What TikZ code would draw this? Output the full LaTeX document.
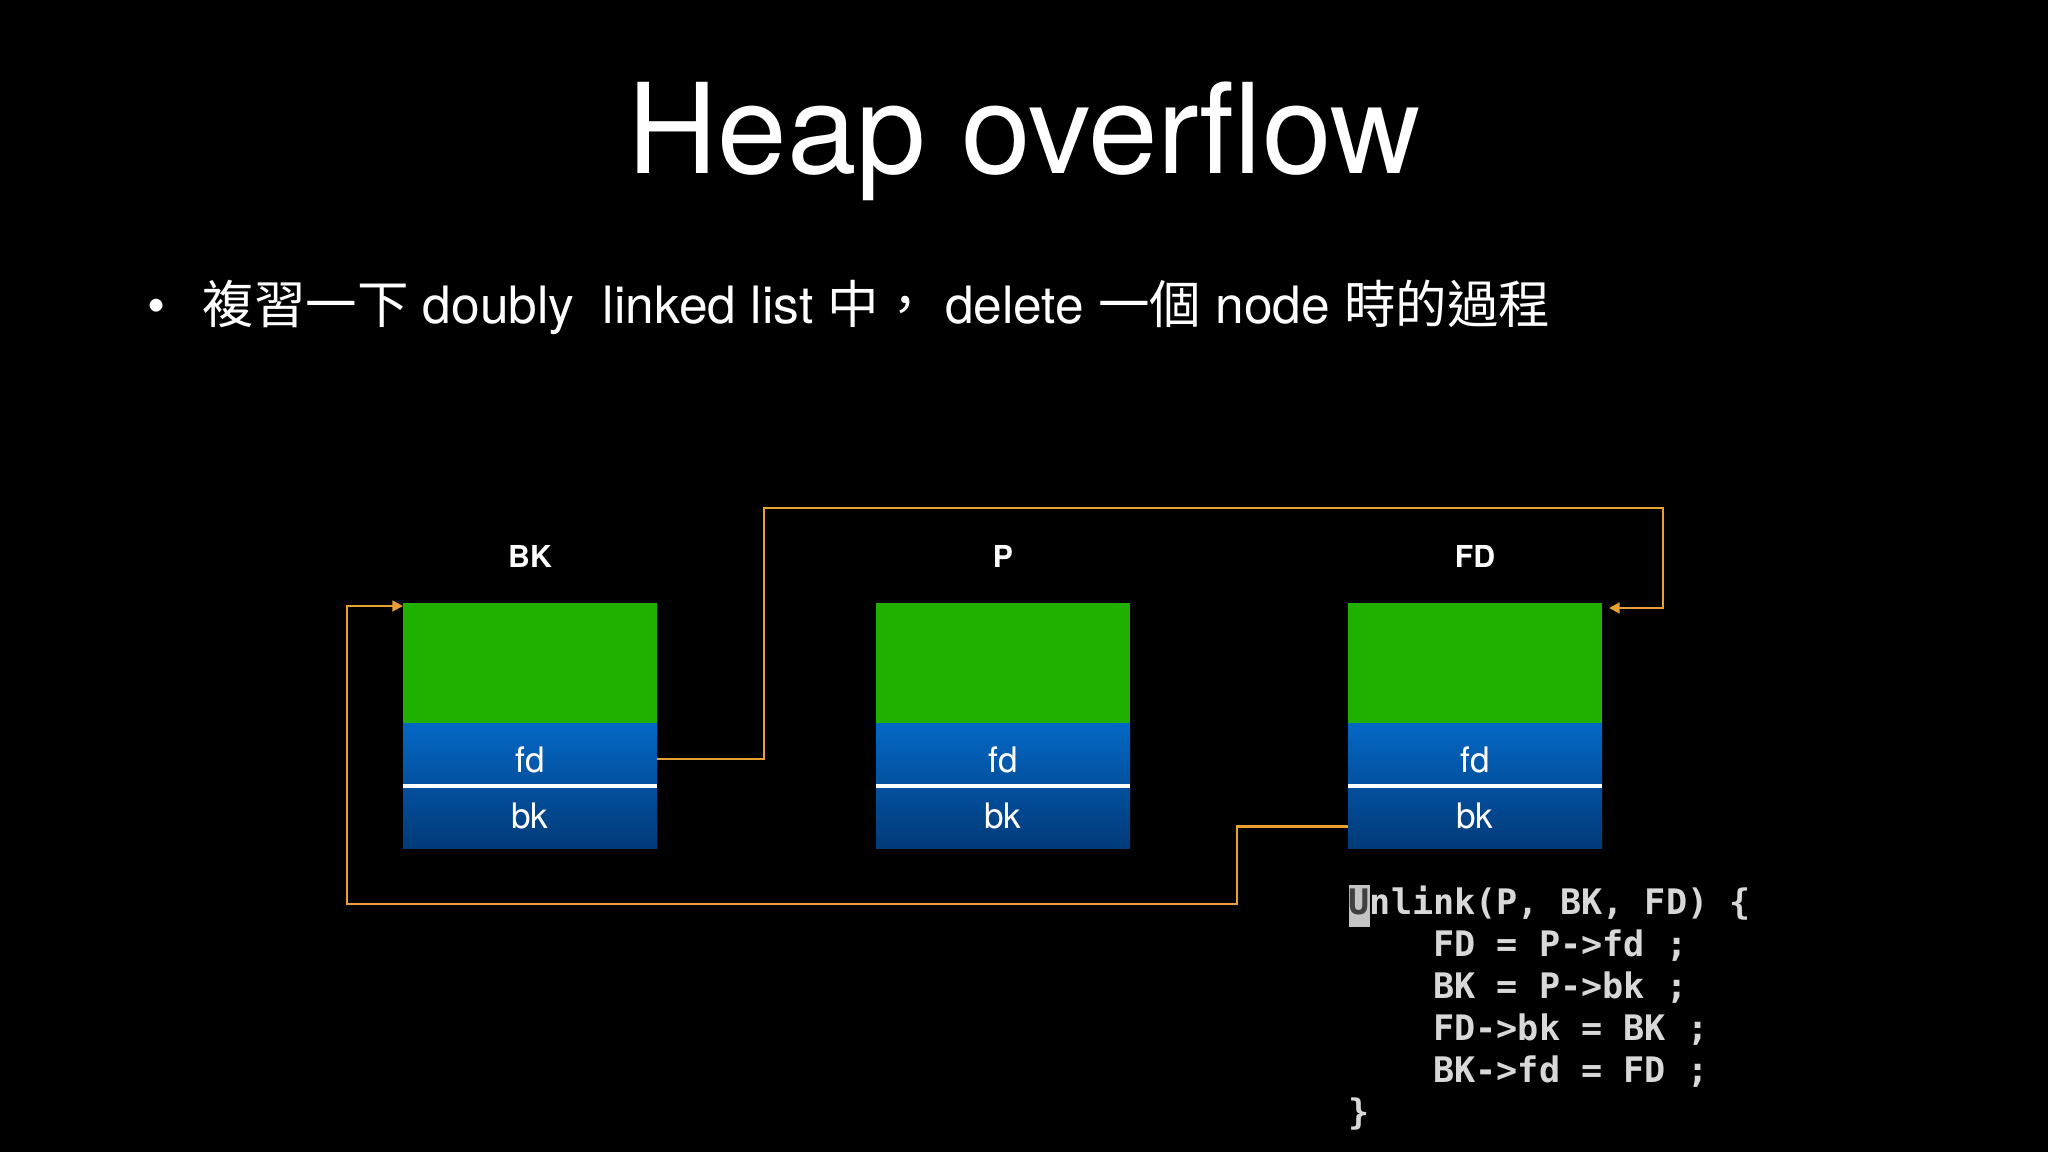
\documentclass[tikz,border=0pt]{standalone}
\usepackage{fontspec}
\setmainfont{TeX Gyre Heros}
\setmonofont{DejaVu Sans Mono}
\newfontfamily\cjk{Noto Sans CJK TC}
\usetikzlibrary{positioning,arrows.meta}
\definecolor{chunkgreen}{HTML}{1FB000}
\definecolor{fdtop}{HTML}{0468C4}
\definecolor{fdbot}{HTML}{03509E}
\definecolor{bktop}{HTML}{03509E}
\definecolor{bkbot}{HTML}{013A78}
\definecolor{ptrorange}{HTML}{E8A030}
\definecolor{codegray}{HTML}{D8D8D8}
\definecolor{cursorgray}{HTML}{C4C4C4}

\begin{document}
\begin{tikzpicture}[x=0.1mm,y=-0.1mm,
        head/.style={fill=chunkgreen,minimum width=25.4mm,minimum height=12.1mm,inner sep=0pt,outer sep=0pt},
        fdfield/.style={top color=fdtop,bottom color=fdbot,minimum width=25.4mm,minimum height=6.2mm,inner sep=0pt,outer sep=0pt,text=white,font=\fontsize{10}{12}\selectfont,text height=10pt,text depth=0pt},
        bkfield/.style={fdfield,top color=bktop,bottom color=bkbot,minimum height=6.3mm,text height=6.2pt},
        chunkname/.style={font=\bfseries\fontsize{8.6}{10}\selectfont,text=white,inner sep=0pt},
        divider/.style={white,line width=0.9pt},
        ptr/.style={draw=ptrorange,line width=0.75pt,-{Triangle[length=3pt,width=3pt]}}]
        \fill[black](0,0)rectangle(2048,1152);

        \node[anchor=base,text=white,font=\fontsize{35.6}{42}\selectfont](title)at(1024,174){Heap overflow};
        \node[anchor=base,text=white,font=\fontsize{14.7}{18}\selectfont](dot)at(157,324){\textbullet};
        \node[anchor=base west,inner sep=0pt,text=white,font=\fontsize{14.65}{18}\selectfont](intro)at(202,324){{\cjk 複習一下} doubly\ \ linked list {\cjk 中，} delete {\cjk 一個} node {\cjk 時的過程}};

        % chunk BK
        \node[head](BKg)at(530,663.5){};
        \node[fdfield,below=0pt of BKg](BKfd){fd};
        \node[bkfield,below=0pt of BKfd](BKbk){bk};
        \node[chunkname,above=3.5mm of BKg](BKname){BK};
        \draw[divider](BKfd.south west)--(BKfd.south east);

        % chunk P
        \node[head,right=21.9mm of BKg](Pg){};
        \node[fdfield,below=0pt of Pg](Pfd){fd};
        \node[bkfield,below=0pt of Pfd](Pbk){bk};
        \node[chunkname,above=3.5mm of Pg](Pname){P};
        \draw[divider](Pfd.south west)--(Pfd.south east);

        % chunk FD
        \node[head,right=21.8mm of Pg](FDg){};
        \node[fdfield,below=0pt of FDg](FDfd){fd};
        \node[bkfield,below=0pt of FDfd](FDbk){bk};
        \node[chunkname,above=3.5mm of FDg](FDname){FD};
        \draw[divider](FDfd.south west)--(FDfd.south east);

        % pointers
        \coordinate(upA)at(764,508);
        \coordinate(upB)at(1663,508);
        \draw[ptr]([yshift=-0.4mm]BKfd.east)-|(upA)--(upB)|-([shift={(7,5)}]FDg.north east);
        \coordinate(lowA)at(1237,904);
        \coordinate(lowB)at(347,904);
        \draw[ptr]([yshift=-0.9mm]FDbk.west)-|(lowA)--(lowB)|-([yshift=-0.3mm]BKg.north west);

        \node[anchor=north west,inner sep=0pt,align=left,text=codegray,font=\ttfamily\bfseries\fontsize{10}{11.95}\selectfont](unlink)at(1348,884){%
            {\setlength{\fboxsep}{0pt}\colorbox{cursorgray}{\color{black!75}\strut U}}nlink(P, BK, FD) \{\\
            \phantom{xxxx}FD = P->fd ;\\
            \phantom{xxxx}BK = P->bk ;\\
            \phantom{xxxx}FD->bk = BK ;\\
            \phantom{xxxx}BK->fd = FD ;\\
            \}};
    \end{tikzpicture}
\end{document}
